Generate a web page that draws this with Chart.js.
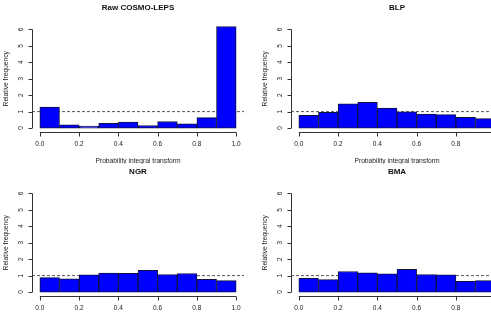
<!DOCTYPE html>
<html lang="en">
<head>
    <meta charset="UTF-8">
    <title>PIT histograms</title>
    <script src="https://cdn.jsdelivr.net/npm/chart.js"></script>
    <style>
        body {
            margin: 0;
            width: 491px;
            height: 317px;
            overflow: hidden;
            background: #ffffff;
            position: relative;
        }
        canvas {
            position: absolute;
        }
    </style>
</head>
<body>
    <canvas id="raw" width="260" height="164" style="left:0;top:0"></canvas>
    <canvas id="blp" width="260" height="164" style="left:259px;top:0"></canvas>
    <canvas id="ngr" width="260" height="164" style="left:0;top:164px"></canvas>
    <canvas id="bma" width="260" height="164" style="left:259px;top:164px"></canvas>
    <script>
        // bin centres of the PIT histogram (10 bins of width 0.1)
        const binCenters = [0.05, 0.15, 0.25, 0.35, 0.45, 0.55, 0.65, 0.75, 0.85, 0.95];
        const xTicks = [0, 0.2, 0.4, 0.6, 0.8, 1.0];
        const yTicks = [0, 1, 2, 3, 4, 5, 6];

        // relative frequency per bin
        const rawValues = [1.27, 0.20, 0.12, 0.28, 0.37, 0.15, 0.40, 0.26, 0.63, 6.18];
        const blpValues = [0.77, 0.96, 1.48, 1.56, 1.22, 0.99, 0.85, 0.82, 0.65, 0.57];
        const ngrValues = [0.88, 0.80, 1.05, 1.15, 1.14, 1.32, 1.07, 1.13, 0.78, 0.70];
        const bmaValues = [0.84, 0.76, 1.25, 1.17, 1.11, 1.39, 1.07, 1.05, 0.66, 0.70];

        const FONT = '"Liberation Sans", Arial, sans-serif';

        // draws the R-style axes, labels and title
        const rAxes = {
            id: 'rAxes',
            afterDraw(chart, args, opts) {
                const ctx = chart.ctx;
                const xs = chart.scales.x;
                const ys = chart.scales.y;
                const area = chart.chartArea;
                ctx.save();
                ctx.strokeStyle = '#333';
                ctx.fillStyle = '#222';
                ctx.lineWidth = 1;

                // x axis
                const ay = Math.round(area.bottom) + 0.5;
                ctx.beginPath();
                ctx.moveTo(xs.getPixelForValue(0), ay);
                ctx.lineTo(xs.getPixelForValue(1), ay);
                xTicks.forEach(t => {
                    const px = Math.round(xs.getPixelForValue(t)) + 0.5;
                    ctx.moveTo(px, ay);
                    ctx.lineTo(px, ay + 4);
                });
                ctx.stroke();
                ctx.font = '6.5px ' + FONT;
                ctx.textAlign = 'center';
                ctx.textBaseline = 'middle';
                xTicks.forEach(t => {
                    ctx.fillText(t.toFixed(1), xs.getPixelForValue(t), ay + 11.5);
                });

                // y axis
                const ax = Math.round(area.left) + 0.5;
                ctx.beginPath();
                ctx.moveTo(ax, ys.getPixelForValue(0));
                ctx.lineTo(ax, ys.getPixelForValue(6));
                yTicks.forEach(t => {
                    const py = Math.round(ys.getPixelForValue(t)) + 0.5;
                    ctx.moveTo(ax, py);
                    ctx.lineTo(ax - 4, py);
                });
                ctx.stroke();
                yTicks.forEach(t => {
                    ctx.save();
                    ctx.translate(ax - 11.5, ys.getPixelForValue(t));
                    ctx.rotate(-Math.PI / 2);
                    ctx.fillText(String(t), 0, 0);
                    ctx.restore();
                });

                // axis titles
                ctx.font = '6.7px ' + FONT;
                ctx.save();
                ctx.translate(6, (area.top + area.bottom) / 2);
                ctx.rotate(-Math.PI / 2);
                ctx.fillText('Relative frequency', 0, 0);
                ctx.restore();
                ctx.fillText('Probability integral transform', (area.left + area.right) / 2, area.bottom + 29);

                // main title
                ctx.fillStyle = '#111';
                ctx.font = 'bold 8px ' + FONT;
                ctx.fillText(opts.text, (area.left + area.right) / 2, 7.5);
                ctx.restore();
            }
        };

        function makeHist(id, title, values) {
            const ctx = document.getElementById(id).getContext('2d');
            return new Chart(ctx, {
                type: 'bar',
                data: {
                    datasets: [
                        {
                            // reference line at 1, drawn behind the bars
                            type: 'line',
                            data: [{x: -0.04, y: 1}, {x: 1.04, y: 1}],
                            borderColor: '#555',
                            borderWidth: 1,
                            borderDash: [3, 2],
                            pointRadius: 0,
                            order: 2
                        },
                        {
                            data: values.map((v, i) => ({x: binCenters[i], y: v})),
                            backgroundColor: '#0000ff',
                            borderColor: '#101040',
                            borderWidth: 1,
                            borderSkipped: false,
                            barPercentage: 1,
                            categoryPercentage: 1,
                            order: 1
                        }
                    ]
                },
                options: {
                    responsive: false,
                    animation: false,
                    layout: {
                        padding: {left: 32, right: 16, top: 25.5, bottom: 32}
                    },
                    plugins: {
                        legend: {display: false},
                        tooltip: {enabled: false},
                        rAxes: {text: title}
                    },
                    scales: {
                        x: {
                            type: 'linear',
                            min: -0.04,
                            max: 1.04,
                            offset: false,
                            display: false,
                            grid: {offset: false},
                            afterBuildTicks: scale => {
                                scale.ticks = xTicks.map(v => ({value: v}));
                            }
                        },
                        y: {
                            min: -0.24,
                            max: 6.24,
                            display: false
                        }
                    }
                },
                plugins: [rAxes]
            });
        }

        makeHist('raw', 'Raw COSMO-LEPS', rawValues);
        makeHist('blp', 'BLP', blpValues);
        makeHist('ngr', 'NGR', ngrValues);
        makeHist('bma', 'BMA', bmaValues);
    </script>
</body>
</html>
